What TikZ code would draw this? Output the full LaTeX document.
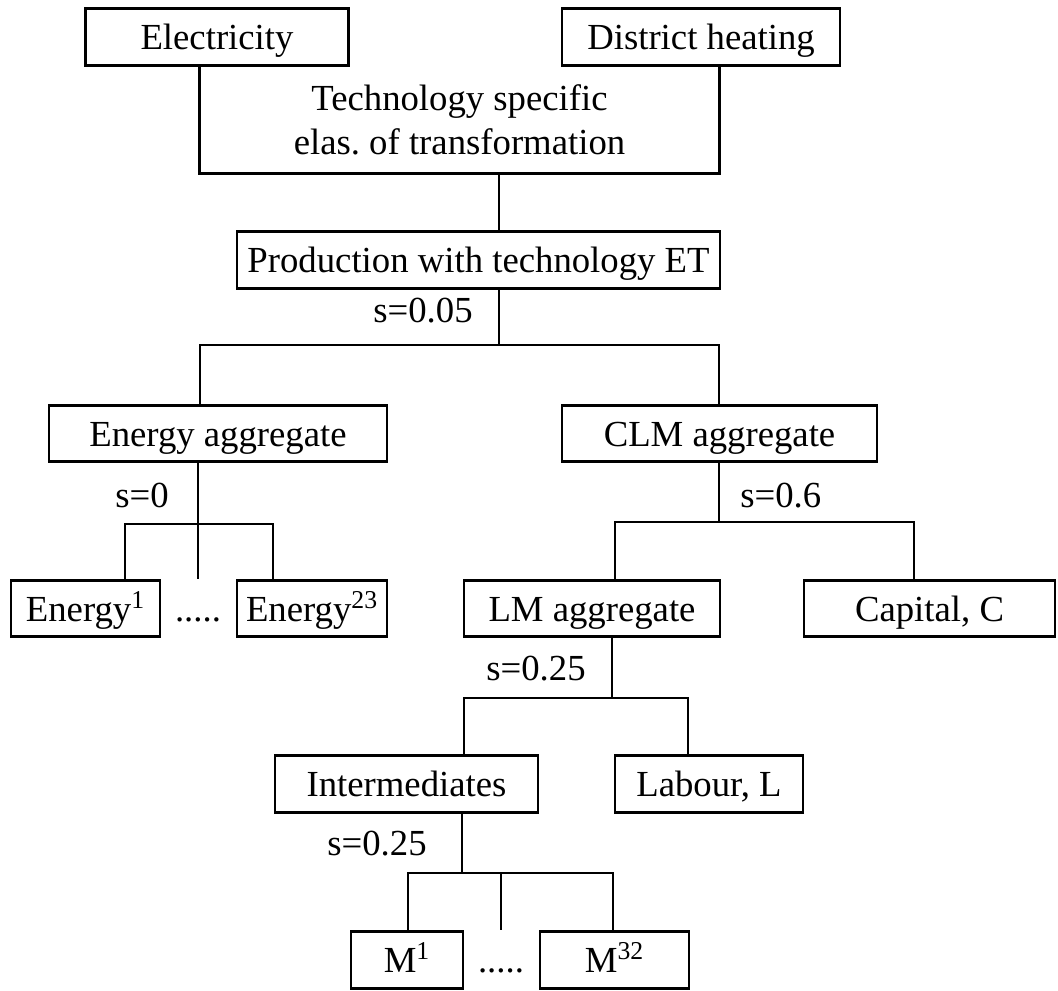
\documentclass[tikz,border=0pt]{standalone}
\usepackage{fontspec}
\setmainfont{Liberation Serif}
\tikzset{
  box/.style={draw, line width=1.6pt, inner sep=0pt, minimum height=11.3mm, text height=19.9pt, text depth=5.2pt},
  conn/.style={line width=1.6pt},
  elas/.style={inner sep=0pt, anchor=base east},
}
\begin{document}
\begin{tikzpicture}[x=0.2mm, y=-0.2mm, font=\fontsize{20.9}{25}\selectfont]
\useasboundingbox (0,0) rectangle (1058,990);
\node[box, minimum width=52.6mm] (elec) at (217,37) {Electricity};
\node[box, minimum width=55.6mm] (dheat) at (701,37) {District heating};
\node[align=center, inner sep=0pt, minimum width=103.8mm, minimum height=21.4mm] (tech) at (459.5,119.5) {Technology specific\\elas.\ of transformation};
\draw[conn](tech.north west) |- (tech.south east) -- (tech.north east);
\node[box, minimum width=96.6mm] (prod) at (478.5,260) {Production with technology ET};
\node[box, minimum width=67.6mm] (enagg) at (218,433.5) {Energy aggregate};
\node[box, minimum width=63mm] (clm) at (719.5,433.5) {CLM aggregate};
\node[box, minimum width=29.8mm] (en1) at (85.5,608.5) {Energy\textsuperscript{1}};
\node[box, minimum width=30mm] (en23) at (312,608.5) {Energy\textsuperscript{23}};
\node[box, minimum width=51.2mm] (lm) at (592,608.5) {LM aggregate};
\node[box, minimum width=50.2mm] (cap) at (929.5,608.5) {Capital, C};
\node[box, minimum width=52.6mm] (inter) at (406.5,784) {Intermediates};
\node[box, minimum width=37.6mm] (labour) at (709,784) {Labour, L};
\node[box, minimum width=22.4mm] (m1) at (407,960) {M\textsuperscript{1}};
\node[box, minimum width=29.8mm] (m32) at (614.5,960) {M\textsuperscript{32}};
\coordinate (s1) at (499,345);
\coordinate (s1l) at (200,345);
\coordinate (s1r) at (719,345);
\coordinate (s2) at (198,524);
\coordinate (s2l) at (125,524);
\coordinate (s2r) at (273,524);
\coordinate (s3) at (719,522);
\coordinate (s3l) at (615,522);
\coordinate (s3r) at (914,522);
\coordinate (s4) at (612,698);
\coordinate (s4l) at (464,698);
\coordinate (s4r) at (688,698);
\coordinate (s5) at (462,873);
\coordinate (s5l) at (408,873);
\coordinate (s5r) at (613,873);
\coordinate (s5m) at (501,873);
\node[anchor=base, inner sep=0pt] (endots) at (en1.base -| s2) {.....};
\node[anchor=base, inner sep=0pt] (mdots) at (m1.base -| s5m) {.....};
\node[elas] (sig1) at (473,322) {s=0.05};
\node[elas] (sig2) at (169,507) {s=0};
\node[elas, anchor=base west] (sig3) at (740,507) {s=0.6};
\node[elas] (sig4) at (586,680) {s=0.25};
\node[elas] (sig5) at (427,855) {s=0.25};
\draw[conn](tech.south -| s1) -- (prod.north -| s1);
\draw[conn](prod.south -| s1) -- (s1);
\draw[conn](enagg.north -| s1l) -- (s1l) -- (s1r) -- (clm.north -| s1r);
\draw[conn](enagg.south -| s2) -- (s2);
\draw[conn](en1.north -| s2l) -- (s2l) -- (s2r) -- (en23.north -| s2r);
\draw[conn](s2) -- (en1.north -| s2);
\draw[conn](clm.south -| s3) -- (s3);
\draw[conn](lm.north -| s3l) -- (s3l) -- (s3r) -- (cap.north -| s3r);
\draw[conn](lm.south -| s4) -- (s4);
\draw[conn](inter.north -| s4l) -- (s4l) -- (s4r) -- (labour.north -| s4r);
\draw[conn](inter.south -| s5) -- (s5);
\draw[conn](m1.north -| s5l) -- (s5l) -- (s5r) -- (m32.north -| s5r);
\draw[conn](s5m) -- (m1.north -| s5m);
\end{tikzpicture}
\end{document}
